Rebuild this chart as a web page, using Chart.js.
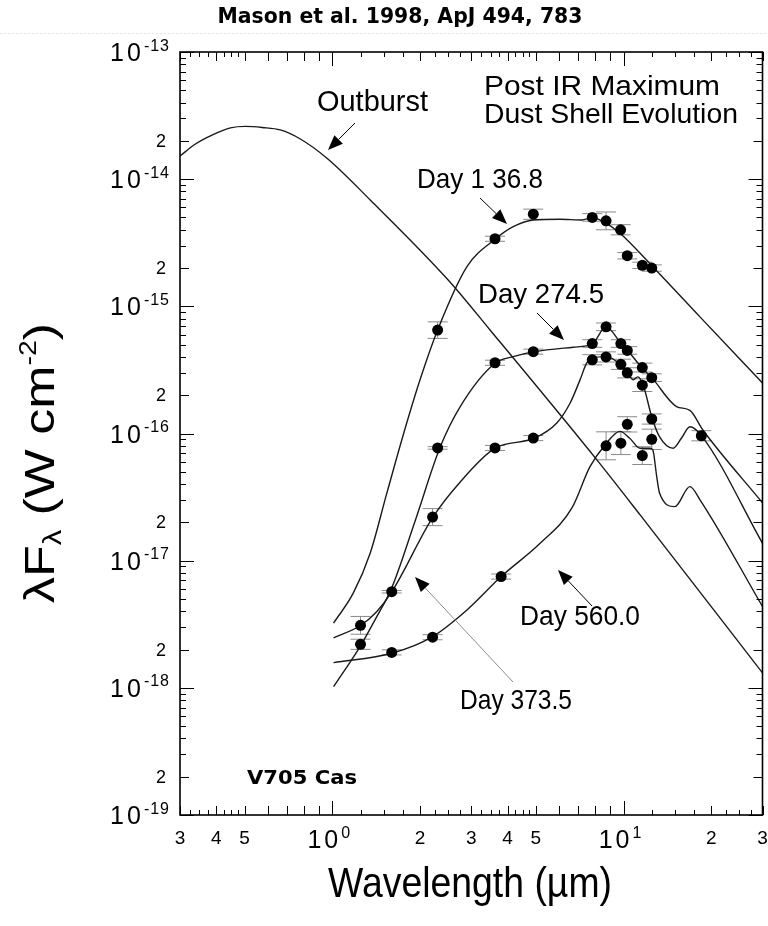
<!DOCTYPE html>
<html>
<head>
<meta charset="utf-8">
<script src="https://cdn.jsdelivr.net/npm/chart.js@4.4.0/dist/chart.umd.min.js"></script>
<style>
  html, body { margin: 0; padding: 0; background: #fff; }
  #wrap { width: 768px; height: 926px; }
</style>
</head>
<body>
<div id="wrap"><canvas id="sed" width="768" height="926"></canvas></div>
<script>
// V705 Cas dust shell SED (Mason et al. 1998)
// wavelength in micron, lambda*F_lambda in W cm^-2

const outburstWl   = [0.30, 0.339, 0.388, 0.447, 0.503, 0.575, 0.663, 0.777, 0.959, 1.35, 2.50, 3.48, 8.10, 11.4, 30];
const outburstFlux = [1.52e-14, 1.89e-14, 2.23e-14, 2.53e-14, 2.60e-14, 2.55e-14, 2.44e-14, 2.07e-14, 1.46e-14, 6.86e-15, 1.61e-15, 6.52e-16, 6.20e-17, 2.29e-17, 1.31e-18];

// model curves
const fit136Wl   = [1.01, 1.18, 1.35, 1.54, 1.76, 2.01, 2.30, 2.90, 3.62, 4.18, 4.90, 6.05, 7.18, 7.81, 8.52, 9.72, 12.6, 18.3, 30];
const fit136Flux = [3.23e-18, 5.55e-18, 1.15e-17, 3.41e-17, 1.01e-16, 2.73e-16, 6.52e-16, 2.05e-15, 3.37e-15, 4.23e-15, 4.78e-15, 4.84e-15, 4.78e-15, 4.98e-15, 4.63e-15, 3.76e-15, 2.05e-15, 8.26e-16, 2.50e-16];

const fit274Wl   = [1.01, 1.25, 1.42, 1.60, 1.93, 2.35, 2.75, 3.62, 4.18, 4.94, 6.72, 7.81, 8.70, 9.80, 10.3, 11.6, 12.5, 15.2, 16.9, 18.7, 30];
const fit274Flux = [1.02e-18, 2.14e-18, 3.61e-18, 6.11e-18, 2.09e-17, 7.89e-17, 1.63e-16, 3.57e-16, 4.02e-16, 4.40e-16, 4.77e-16, 5.06e-16, 6.89e-16, 5.13e-16, 4.54e-16, 3.26e-16, 2.75e-16, 1.63e-16, 1.52e-16, 1.07e-16, 2.85e-17];

const fit373Wl   = [1.01, 1.25, 1.42, 1.60, 2.21, 2.75, 3.62, 4.94, 5.90, 6.55, 7.09, 7.47, 7.81, 8.70, 9.80, 10.3, 10.8, 11.2, 11.7, 12.5, 13.3, 14.8, 15.8, 16.9, 18.5, 30];
const fit373Flux = [2.47e-18, 3.09e-18, 3.96e-18, 5.68e-18, 2.18e-17, 4.16e-17, 7.66e-17, 9.18e-17, 1.21e-16, 1.73e-16, 2.64e-16, 3.57e-16, 3.91e-16, 4.02e-16, 3.46e-16, 3.03e-16, 2.64e-16, 2.79e-16, 2.37e-16, 1.35e-16, 9.40e-17, 7.66e-17, 9.18e-17, 1.13e-16, 9.63e-17, 1.37e-17];

const fit560Wl   = [1.01, 1.60, 2.21, 2.90, 3.80, 5.17, 6.65, 7.67, 8.64, 9.72, 10.5, 11.4, 12.3, 12.6, 13.0, 13.3, 15.0, 16.9, 18.3, 30];
const fit560Flux = [1.58e-18, 1.87e-18, 2.53e-18, 4.10e-18, 7.50e-18, 1.37e-17, 2.60e-17, 5.49e-17, 8.13e-17, 1.04e-16, 9.18e-17, 7.66e-17, 7.66e-17, 7.43e-17, 4.58e-17, 3.39e-17, 2.66e-17, 3.82e-17, 3.01e-17, 4.36e-18];

// photometry, errors in dex
const obs136Wl   = [2.30, 3.62, 4.90, 7.81, 8.71, 9.77, 10.3, 11.6, 12.5];
const obs136Flux = [6.5e-16, 3.4e-15, 5.3e-15, 5.0e-15, 4.7e-15, 4.0e-15, 2.5e-15, 2.1e-15, 2.0e-15];
const obs136Err  = [0.065, 0.02, 0.04, 0.03, 0.07, 0.04, 0.025, 0.025, 0.025];

const obs274Wl   = [1.25, 2.30, 3.62, 4.90, 7.81, 8.71, 9.79, 10.3, 11.6, 12.5];
const obs274Flux = [2.2e-18, 7.7e-17, 3.6e-16, 4.4e-16, 5.1e-16, 6.9e-16, 5.1e-16, 4.5e-16, 3.3e-16, 2.75e-16];
const obs274Err  = [0.04, 0.01, 0.02, 0.02, 0.03, 0.03, 0.03, 0.03, 0.035, 0.03];

const obs373Wl   = [1.25, 1.60, 2.21, 3.62, 4.90, 7.81, 8.71, 9.79, 10.3, 11.6, 12.5, 18.5];
const obs373Flux = [3.1e-18, 5.7e-18, 2.2e-17, 7.7e-17, 9.2e-17, 3.8e-16, 4.0e-16, 3.5e-16, 3.0e-16, 2.4e-16, 1.3e-16, 9.6e-17];
const obs373Err  = [0.07, 0.01, 0.067, 0.02, 0.02, 0.04, 0.04, 0.04, 0.04, 0.05, 0.04, 0.04];

const obs560Wl   = [1.60, 2.21, 3.80, 8.71, 9.79, 10.3, 11.6, 12.5];
const obs560Flux = [1.9e-18, 2.5e-18, 7.5e-18, 8.0e-17, 8.4e-17, 1.18e-16, 6.7e-17, 9.0e-17];
const obs560Err  = [0.02, 0.02, 0.02, 0.11, 0.09, 0.06, 0.07, 0.08];

// tick labels
const xTickVals = [0.3, 0.4, 0.5, 1, 2, 3, 4, 5, 10, 20, 30];
const xTickText = ['3', '4', '5', '10^0', '2', '3', '4', '5', '10^1', '2', '3'];
const yTickVals = [1e-19, 2e-19, 1e-18, 2e-18, 1e-17, 2e-17, 1e-16, 2e-16, 1e-15, 2e-15, 1e-14, 2e-14, 1e-13];
const yTickText = ['10^-19', '2', '10^-18', '2', '10^-17', '2', '10^-16', '2', '10^-15', '2', '10^-14', '2', '10^-13'];

const FONT = '"Liberation Sans", Arial, Helvetica, sans-serif';
const BOLD = '"DejaVu Sans", sans-serif';

function pts(xs, ys) { return xs.map((x, i) => ({ x, y: ys[i] })); }

function curve(xs, ys) {
  return {
    data: pts(xs, ys), showLine: true, pointRadius: 0,
    borderColor: '#1a1a1a', borderWidth: 1.4,
    cubicInterpolationMode: 'monotone', order: 2,
  };
}
function obs(xs, ys, err) {
  return {
    data: pts(xs, ys), err, showLine: false,
    pointRadius: 5.5, pointBackgroundColor: '#000', pointBorderWidth: 0, order: 1,
  };
}

function fitText(ctx, str, x, y, font, width, align) {
  ctx.font = font;
  const w = ctx.measureText(str).width;
  const sx = width ? width / w : 1;
  ctx.save();
  ctx.translate(x, y);
  ctx.scale(sx, 1);
  ctx.textAlign = 'left';
  ctx.fillText(str, align === 'center' ? -w / 2 : 0, 0);
  ctx.restore();
}

function arrow(ctx, x1, y1, x2, y2, lineColor) {
  const a = Math.atan2(y2 - y1, x2 - x1), L = 15, W = 6;
  const bx = x2 - L * Math.cos(a), by = y2 - L * Math.sin(a);
  ctx.strokeStyle = lineColor || '#000';
  ctx.lineWidth = 1;
  ctx.beginPath(); ctx.moveTo(x1, y1); ctx.lineTo(bx, by); ctx.stroke();
  ctx.fillStyle = '#000';
  ctx.beginPath();
  ctx.moveTo(x2, y2);
  ctx.lineTo(bx + W * Math.sin(a), by - W * Math.cos(a));
  ctx.lineTo(bx - W * Math.sin(a), by + W * Math.cos(a));
  ctx.closePath(); ctx.fill();
}

// "10^-14" style label, anchor = right edge or centre
function powLabel(ctx, txt, x, y, anchor, big, small) {
  const parts = txt.split('^');
  ctx.font = big + 'px ' + FONT;
  ctx.letterSpacing = '3px';
  const wb = ctx.measureText(parts[0]).width;
  let we = 0;
  if (parts[1]) { ctx.font = small + 'px ' + FONT; ctx.letterSpacing = '1px'; we = ctx.measureText(parts[1]).width; }
  const total = wb + we;
  const left = anchor === 'right' ? x - total : x - total / 2;
  ctx.textAlign = 'left';
  ctx.font = big + 'px ' + FONT; ctx.letterSpacing = '3px';
  ctx.fillText(parts[0], left, y);
  if (parts[1]) {
    ctx.font = small + 'px ' + FONT; ctx.letterSpacing = '1px';
    ctx.fillText(parts[1], left + wb, y - big * 0.42);
  }
  ctx.letterSpacing = '0px';
}

const sedPlugin = {
  id: 'sedDecor',
  beforeDatasetsDraw(chart) {
    const { ctx, scales: { x, y } } = chart;
    ctx.save();
    ctx.strokeStyle = '#8a8a8a';
    ctx.lineWidth = 1;
    chart.data.datasets.forEach(ds => {
      if (!ds.err) return;
      ds.data.forEach((p, i) => {
        const px = x.getPixelForValue(p.x);
        const hi = y.getPixelForValue(p.y * Math.pow(10, ds.err[i]));
        const lo = y.getPixelForValue(p.y / Math.pow(10, ds.err[i]));
        ctx.beginPath();
        ctx.moveTo(px, hi); ctx.lineTo(px, lo);
        ctx.moveTo(px - 10, hi); ctx.lineTo(px + 10, hi);
        ctx.moveTo(px - 10, lo); ctx.lineTo(px + 10, lo);
        ctx.stroke();
      });
    });
    ctx.restore();
  },
  afterDraw(chart) {
    const { ctx, chartArea: ca, scales: { x, y } } = chart;
    ctx.save();

    // frame
    ctx.strokeStyle = '#000';
    ctx.lineWidth = 1.6;
    ctx.strokeRect(ca.left, ca.top, ca.right - ca.left, ca.bottom - ca.top);

    // tick marks, inward on all four sides
    ctx.lineWidth = 1;
    ctx.beginPath();
    const xm = [1, 1.25, 1.5, 1.75, 2, 2.25, 2.5, 2.75, 3, 3.25, 3.5, 3.75, 4, 4.25, 4.5, 4.75, 5, 6, 7, 8, 9];
    [0.1, 1, 10].forEach(d => xm.forEach(m => {
      const v = d * m;
      if (v < 0.2999 || v > 30.001) return;
      const len = m === 1 ? 14 : (Number.isInteger(m) ? 9 : 5);
      const px = Math.round(x.getPixelForValue(v)) + 0.5;
      ctx.moveTo(px, ca.bottom); ctx.lineTo(px, ca.bottom - len);
      ctx.moveTo(px, ca.top); ctx.lineTo(px, ca.top + len);
    }));
    for (let e = -19; e <= -13; e++) {
      for (let m = 1; m <= 9; m++) {
        if (e === -13 && m > 1) break;
        const py = Math.round(y.getPixelForValue(m * Math.pow(10, e))) + 0.5;
        const len = m === 1 ? 14 : (m === 2 ? 9 : 6);
        ctx.moveTo(ca.left, py); ctx.lineTo(ca.left + len, py);
        ctx.moveTo(ca.right, py); ctx.lineTo(ca.right - len, py);
      }
    }
    ctx.stroke();

    // tick labels
    ctx.fillStyle = '#000';
    xTickVals.forEach((v, i) => {
      const px = x.getPixelForValue(v);
      const t = xTickText[i];
      if (t.includes('^')) powLabel(ctx, t, px - 3, ca.bottom + 33, 'center', 25, 16);
      else { ctx.font = '19px ' + FONT; ctx.textAlign = 'center'; ctx.fillText(t, px, ca.bottom + 29); }
    });
    yTickVals.forEach((v, i) => {
      const py = y.getPixelForValue(v);
      const t = yTickText[i];
      if (t.includes('^')) powLabel(ctx, t, 170, py + 9, 'right', 25, 16);
      else { ctx.font = '18px ' + FONT; ctx.textAlign = 'right'; ctx.fillText(t, 166, py + 6); }
    });

    // axis titles
    fitText(ctx, 'Wavelength (\u00b5m)', 470, 897, '42px ' + FONT, 284, 'center');

    ctx.save();
    ctx.translate(54, 463);
    ctx.rotate(-Math.PI / 2);
    const seg = [['\u03bbF', 42, 0], ['\u03bb', 25, 7], [' (W cm', 42, 0], ['-2', 23, -18], [')', 42, 0]];
    let tot = 0;
    seg.forEach(s => { ctx.font = s[1] + 'px ' + FONT; tot += ctx.measureText(s[0]).width; });
    ctx.scale(280 / tot, 1);
    let cx = -tot / 2;
    seg.forEach(s => {
      ctx.font = s[1] + 'px ' + FONT; ctx.textAlign = 'left';
      ctx.fillText(s[0], cx, s[2]);
      cx += ctx.measureText(s[0]).width;
    });
    ctx.restore();

    // annotations
    const f28 = '28px ' + FONT;
    fitText(ctx, 'Outburst', 317, 111, '29px ' + FONT, 111);
    fitText(ctx, 'Post IR Maximum', 484, 95, '28px ' + FONT, 236);
    fitText(ctx, 'Dust Shell Evolution', 484, 123, '28px ' + FONT, 254);
    fitText(ctx, 'Day 1 36.8', 417, 188, f28, 126);
    fitText(ctx, 'Day 274.5', 478, 303, f28, 126);
    fitText(ctx, 'Day 560.0', 520, 625, f28, 120);
    fitText(ctx, 'Day 373.5', 460, 709, f28, 112);
    fitText(ctx, 'V705 Cas', 247, 784, 'bold 20px ' + BOLD, 110);
    fitText(ctx, 'Mason et al. 1998, ApJ 494, 783', 400, 23, 'bold 21px ' + BOLD, 365, 'center');

    arrow(ctx, 355, 123, 328, 150);
    arrow(ctx, 480, 198, 507, 224);
    arrow(ctx, 537, 313, 564, 340);
    arrow(ctx, 592, 606, 558, 570);
    arrow(ctx, 513, 682, 415, 577, '#8c8c8c');

    // faint scan line under header
    ctx.strokeStyle = '#e4e4e4';
    ctx.setLineDash([2, 2]);
    ctx.beginPath(); ctx.moveTo(0, 33.5); ctx.lineTo(768, 33.5); ctx.stroke();
    ctx.restore();
  }
};

new Chart(document.getElementById('sed'), {
  type: 'scatter',
  data: {
    datasets: [
      curve(outburstWl, outburstFlux),
      curve(fit136Wl, fit136Flux),
      curve(fit274Wl, fit274Flux),
      curve(fit373Wl, fit373Flux),
      curve(fit560Wl, fit560Flux),
      obs(obs136Wl, obs136Flux, obs136Err),
      obs(obs274Wl, obs274Flux, obs274Err),
      obs(obs373Wl, obs373Flux, obs373Err),
      obs(obs560Wl, obs560Flux, obs560Err),
    ],
  },
  options: {
    responsive: false,
    animation: false,
    devicePixelRatio: 1,
    layout: { padding: { top: 52, right: 5, left: 0, bottom: 0 } },
    plugins: { legend: { display: false }, tooltip: { enabled: false } },
    scales: {
      x: {
        type: 'logarithmic', min: 0.3, max: 30,
        ticks: { display: false }, grid: { display: false }, border: { display: false },
        afterFit: s => { s.height = 111; },
      },
      y: {
        type: 'logarithmic', min: 1e-19, max: 1e-13,
        ticks: { display: false }, grid: { display: false }, border: { display: false },
        afterFit: s => { s.width = 180; },
      },
    },
  },
  plugins: [sedPlugin],
});
</script>
</body>
</html>
